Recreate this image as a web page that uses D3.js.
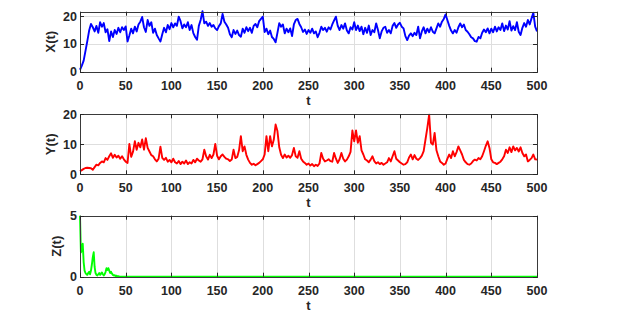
<!DOCTYPE html>
<html>
<head>
<meta charset="utf-8">
<script src="https://cdn.jsdelivr.net/npm/d3@7"></script>
<style>
  html, body { margin: 0; padding: 0; background: #fff; }
  svg text { font-family: "Liberation Sans", Arial, sans-serif; font-weight: bold; fill: #262626; }
</style>
</head>
<body>
<div id="chart"></div>
<script>
// time axis (sampled every 2 units)
const tValues = d3.range(0, 501, 2);
const xTicks = [0, 50, 100, 150, 200, 250, 300, 350, 400, 450, 500];

// X(t)
const xSeries = [
  0.7, 2.2, 4.0, 7.5, 11.0, 14.8, 17.2, 16.0, 14.5, 16.5,
  14.0, 17.8, 16.2, 17.5, 14.2, 15.3, 11.0, 14.5, 12.5, 15.0,
  13.6, 15.8, 14.2, 16.0, 15.0, 16.3, 10.9, 13.0, 15.5, 13.8,
  16.2, 14.5, 17.0, 18.0, 19.7, 16.0, 14.3, 18.6, 16.5, 17.8,
  14.0, 15.5, 13.2, 12.0, 10.9, 13.5, 15.8, 14.2, 16.8, 15.3,
  17.5, 16.0, 17.4, 16.5, 19.8, 18.2, 15.6, 17.0, 16.0, 17.8,
  15.0, 16.8, 13.9, 12.5, 11.5, 16.5, 18.6, 21.8, 17.4, 18.0,
  16.5, 17.5, 16.2, 16.8, 15.6, 15.0, 16.4, 17.4, 20.8, 18.0,
  17.0, 15.8, 13.5, 12.4, 15.0, 13.6, 14.8, 13.2, 12.6, 15.5,
  14.0, 16.0, 14.6, 15.8, 14.0, 16.5, 17.2, 16.0, 18.2, 19.0,
  19.8, 14.3, 15.5, 13.5, 14.8, 12.5, 11.8, 10.6, 14.0, 17.5,
  16.2, 17.0, 13.8, 15.5, 14.2, 15.6, 12.8, 17.0, 18.6, 19.0,
  17.2, 16.0, 14.3, 15.2, 13.6, 15.0, 14.0, 15.5, 13.8, 14.5,
  12.4, 14.0, 16.2, 15.0, 15.8, 14.4, 16.0, 15.2, 17.0, 18.5,
  19.8, 16.5, 15.0, 16.8, 15.5, 17.4, 14.8, 13.8, 16.0, 15.2,
  17.8, 15.0, 16.6, 14.6, 16.2, 13.5, 15.8, 14.0, 16.6, 13.2,
  15.0, 14.2, 17.4, 15.0, 12.0, 14.5, 15.8, 16.2, 14.0, 15.0,
  13.8, 16.5, 17.5, 15.8, 17.0, 17.6, 16.2, 15.6, 12.8, 11.4,
  13.0, 13.8, 12.8, 14.0, 13.2, 16.2, 12.0, 14.5, 16.0, 13.8,
  15.5, 14.2, 16.0, 14.4, 13.8, 15.6, 17.4, 16.2, 18.0, 19.0,
  20.6, 18.5, 16.5, 14.8, 13.8, 15.0, 14.0, 16.0, 17.4, 16.0,
  17.0, 15.0, 14.4, 13.5, 12.4, 12.0, 11.0, 10.8, 12.5, 12.0,
  14.0, 15.2, 14.2, 15.6, 13.8, 15.5, 14.2, 16.2, 14.5, 16.0,
  15.0, 17.4, 14.6, 16.6, 15.2, 18.2, 14.8, 16.4, 15.0, 17.8,
  14.4, 13.2, 15.8, 17.5, 16.2, 18.6, 17.0, 19.2, 21.2, 16.2,
  14.5
];

// Y(t)
const ySeries = [
  1.0, 1.4, 1.8, 2.1, 2.2, 2.1, 2.0, 1.5, 2.4, 3.2,
  3.0, 3.8, 4.3, 4.0, 5.4, 4.8, 6.0, 7.0, 5.5, 6.5,
  5.6, 6.2, 5.2, 6.0, 5.0, 4.2, 3.8, 10.1, 5.8, 7.5,
  11.0, 8.2, 10.5, 9.0, 11.6, 8.2, 12.0, 8.8, 7.6, 6.4,
  6.0, 5.0, 4.3, 5.2, 9.2, 5.5, 4.8, 5.5, 4.2, 4.8,
  4.0, 5.2, 4.0, 3.6, 4.4, 3.4, 4.2, 3.6, 4.6, 3.4,
  4.0, 3.6, 4.8, 4.0, 5.2, 4.6, 4.2, 5.0, 8.2, 6.0,
  4.9, 6.5, 5.4, 6.6, 10.1, 6.2, 5.0, 6.0, 6.6, 5.8,
  5.2, 5.0, 4.4, 4.9, 8.2, 5.4, 5.8, 8.0, 12.7, 7.7,
  9.3, 6.5, 4.9, 3.8, 3.2, 3.5, 3.0, 3.4, 3.8, 4.4,
  5.0, 6.6, 12.7, 7.7, 12.7, 9.3, 11.5, 16.6, 14.4, 9.0,
  6.5, 5.4, 6.6, 5.6, 6.2, 5.5, 6.4, 8.8, 6.0, 5.5,
  7.7, 5.2, 4.3, 3.8, 3.2, 3.6, 2.9, 3.4, 2.7, 3.2,
  2.8, 3.6, 7.1, 5.2, 4.3, 4.6, 5.0, 4.4, 4.2, 7.1,
  5.2, 3.8, 5.0, 7.1, 5.2, 4.3, 4.9, 6.0, 7.5, 14.6,
  11.0, 14.6, 10.5, 12.7, 8.0, 6.6, 5.0, 4.6, 4.0, 4.9,
  6.0, 4.4, 3.6, 4.0, 3.4, 3.8, 3.2, 3.6, 4.0, 5.4,
  4.3, 6.0, 7.7, 5.2, 4.6, 4.0, 3.6, 3.2, 3.4, 4.0,
  5.6, 6.6, 5.0, 6.4, 5.2, 4.8, 5.4, 6.2, 7.7, 11.6,
  15.5, 19.9, 10.5, 9.9, 13.8, 8.0, 6.0, 4.3, 3.8, 3.2,
  3.6, 5.2, 6.6, 5.4, 7.7, 6.0, 7.4, 9.3, 8.0, 6.6,
  4.8, 4.0, 3.4, 3.2, 3.6, 4.4, 4.9, 4.6, 5.4, 5.0,
  6.0, 7.7, 9.5, 11.0, 8.8, 5.0, 4.0, 3.8, 3.4, 3.8,
  4.2, 5.0, 6.0, 8.2, 7.1, 9.0, 7.4, 9.3, 8.0, 8.8,
  7.6, 9.0, 7.1, 6.0, 6.6, 4.3, 4.8, 5.4, 6.6, 5.0,
  4.9
];

// Z(t) (dies out after t ~ 45)
const zTimes = [
  0, 1, 2, 3, 4, 5, 6, 7, 8, 9, 10, 11, 12, 13, 14, 15, 16, 17, 18, 19,
  20, 21, 22, 23, 24, 25, 26, 27, 28, 29, 30, 31, 32, 33, 34, 35, 36, 37, 38, 39,
  40, 41, 42, 43, 44, 45, 500
];
const zSeries = [
  5.0, 2.0, 2.2, 2.7, 1.2, 0.5, 0.3, 0.2, 0.15, 0.3, 0.4, 0.2, 0.5, 1.0, 1.6, 2.0, 0.8, 0.3, 0.15, 0.1,
  0.2, 0.3, 0.15, 0.25, 0.35, 0.2, 0.1, 0.2, 0.4, 0.7, 0.55, 0.7, 0.5, 0.3, 0.4, 0.25, 0.15, 0.1, 0.12, 0.06,
  0.08, 0.03, 0.04, 0.02, 0.01, 0, 0
];

const panels = [
  { t: tValues, v: xSeries, color: "#0000ff", label: "X(t)", top: 11.7, bottom: 71.7, domain: [0, 21.6], yTicks: [0, 10, 20], labelX: 50 },
  { t: tValues, v: ySeries, color: "#ff0000", label: "Y(t)", top: 114.3, bottom: 174.3, domain: [0, 20], yTicks: [0, 10, 20], labelX: 50 },
  { t: zTimes, v: zSeries, color: "#00ff00", label: "Z(t)", top: 215.7, bottom: 276.7, domain: [0, 5], yTicks: [0, 5], labelX: 56 }
];

const width = 639, height = 324;
const left = 80, right = 537;

const svg = d3.select("#chart").append("svg")
  .attr("width", width)
  .attr("height", height);

const x = d3.scaleLinear().domain([0, 500]).range([left, right]);

panels.forEach(function(p) {
  const y = d3.scaleLinear().domain(p.domain).range([p.bottom, p.top]);
  const g = svg.append("g");

  // grid
  g.selectAll(".vgrid").data(xTicks.slice(1, -1)).enter().append("line")
    .attr("x1", d => Math.round(x(d)) + 0.5).attr("x2", d => Math.round(x(d)) + 0.5)
    .attr("y1", p.top).attr("y2", p.bottom)
    .attr("stroke", "#dedede").attr("stroke-width", 1);
  g.selectAll(".hgrid").data(p.yTicks.filter(d => d > p.domain[0] && d < p.domain[1])).enter().append("line")
    .attr("x1", left).attr("x2", right)
    .attr("y1", d => Math.round(y(d)) + 0.5).attr("y2", d => Math.round(y(d)) + 0.5)
    .attr("stroke", "#dedede").attr("stroke-width", 1);

  // data line
  const line = d3.line().x((d, i) => x(p.t[i])).y(d => y(d));
  g.append("path")
    .datum(p.v)
    .attr("fill", "none")
    .attr("stroke", p.color)
    .attr("stroke-width", 1.9)
    .attr("stroke-linejoin", "round")
    .attr("d", line);

  // box
  g.append("rect")
    .attr("x", left + 0.5).attr("y", Math.round(p.top) + 0.5)
    .attr("width", right - left).attr("height", Math.round(p.bottom) - Math.round(p.top))
    .attr("fill", "none").attr("stroke", "#3a3a3a").attr("stroke-width", 1);

  // inward ticks, bottom + top
  xTicks.forEach(function(d) {
    const xx = Math.round(x(d)) + 0.5;
    g.append("line").attr("x1", xx).attr("x2", xx)
      .attr("y1", p.bottom).attr("y2", p.bottom - 4).attr("stroke", "#262626");
    g.append("line").attr("x1", xx).attr("x2", xx)
      .attr("y1", p.top).attr("y2", p.top + 4).attr("stroke", "#262626");
  });
  p.yTicks.forEach(function(d) {
    const yy = Math.round(y(d)) + 0.5;
    g.append("line").attr("x1", left).attr("x2", left + 4)
      .attr("y1", yy).attr("y2", yy).attr("stroke", "#262626");
    g.append("line").attr("x1", right).attr("x2", right - 4)
      .attr("y1", yy).attr("y2", yy).attr("stroke", "#262626");
  });

  // tick labels
  g.selectAll(".xl").data(xTicks).enter().append("text")
    .attr("x", d => x(d))
    .attr("y", p.bottom + 18)
    .attr("text-anchor", "middle")
    .style("font-size", "12.5px")
    .text(d => d);
  g.selectAll(".yl").data(p.yTicks).enter().append("text")
    .attr("x", left - 3)
    .attr("y", d => y(d) + 4.5)
    .attr("text-anchor", "end")
    .style("font-size", "12.5px")
    .text(d => d);

  // axis titles
  g.append("text")
    .attr("x", x(250))
    .attr("y", p.bottom + 33)
    .attr("text-anchor", "middle")
    .style("font-size", "13px")
    .text("t");
  g.append("text")
    .attr("transform", `translate(${p.labelX + 4.5},${(p.top + p.bottom) / 2}) rotate(-90)`)
    .attr("text-anchor", "middle")
    .style("font-size", "13px")
    .text(p.label);
});
</script>
</body>
</html>
